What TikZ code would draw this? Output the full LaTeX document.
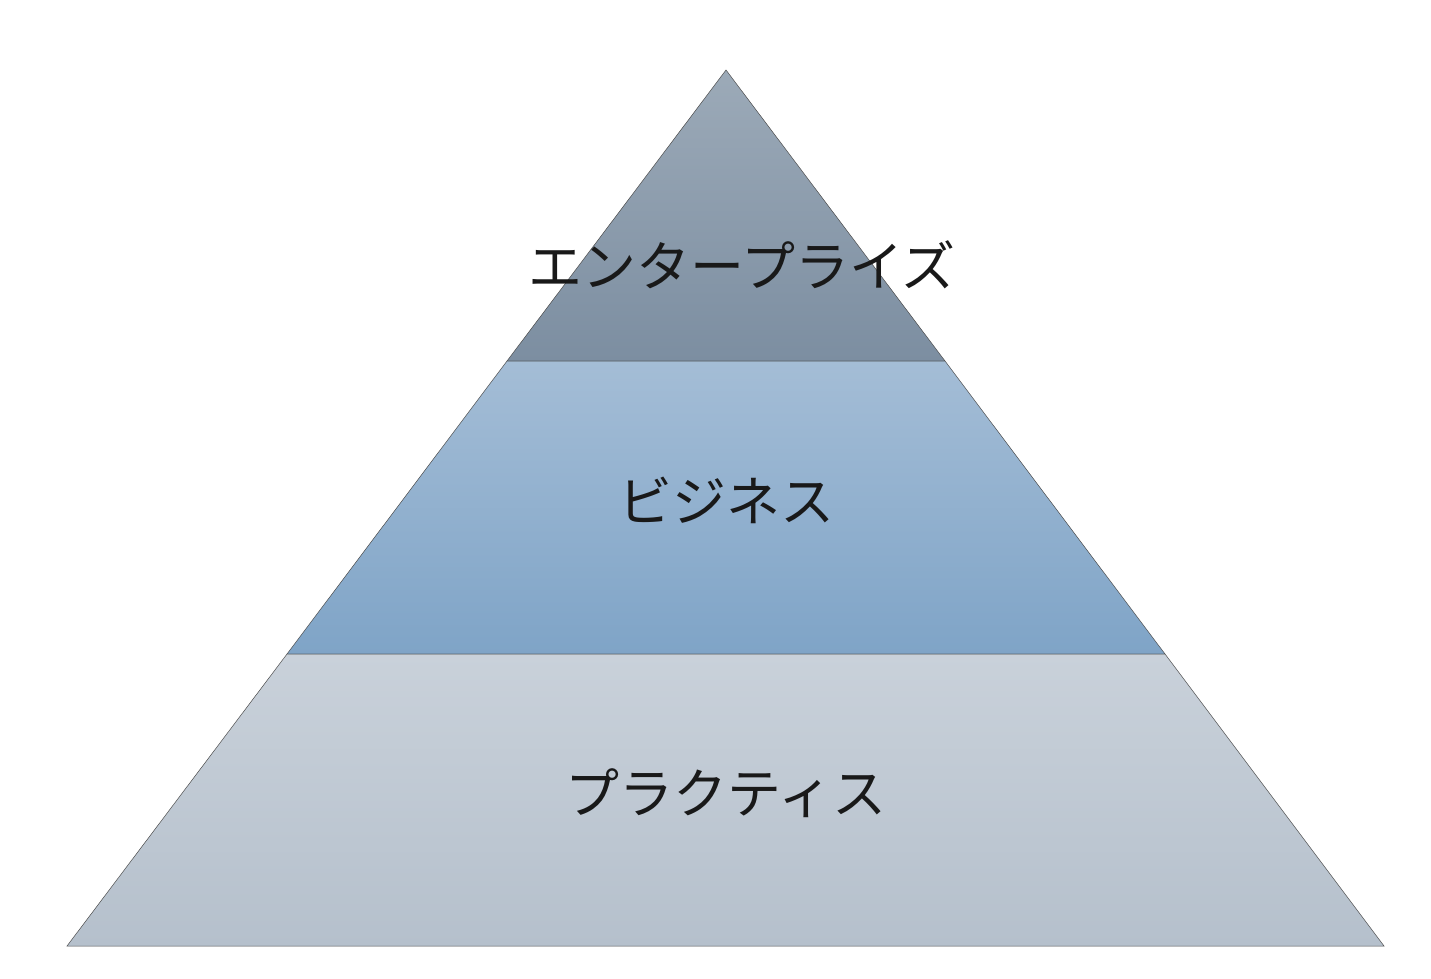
\documentclass[tikz,border=0pt]{standalone}
\usepackage{fontspec}
\newfontfamily\jp{Noto Sans CJK JP}
\definecolor{t1}{HTML}{9CAAB8}\definecolor{t2}{HTML}{7C8EA1}
\definecolor{m1}{HTML}{A4BDD6}\definecolor{m2}{HTML}{7FA4C7}
\definecolor{b1}{HTML}{C9D1DA}\definecolor{b2}{HTML}{B5C0CC}
\tikzset{layer/.style={draw=black!70,line width=0.5pt},
 lbl/.style={font=\jp\fontsize{54}{60}\selectfont,text=black!90,inner sep=0pt}}
\begin{document}
\begin{tikzpicture}[x=1pt,y=-1pt]
\useasboundingbox (0,0) rectangle (1431,978);
\path[layer,top color=t1,bottom color=t2] (726,70) -- (945,361) -- (507,361) -- cycle;
\path[layer,top color=m1,bottom color=m2] (507,361) -- (945,361) -- (1165,654) -- (287,654) -- cycle;
\path[layer,top color=b1,bottom color=b2] (287,654) -- (1165,654) -- (1384,946) -- (67,946) -- cycle;
\node[lbl] (e) at (742,265) {エンタープライズ};
\node[lbl] (b) at (726,500) {ビジネス};
\node[lbl] (p) at (726,793) {プラクティス};
\end{tikzpicture}
\end{document}
